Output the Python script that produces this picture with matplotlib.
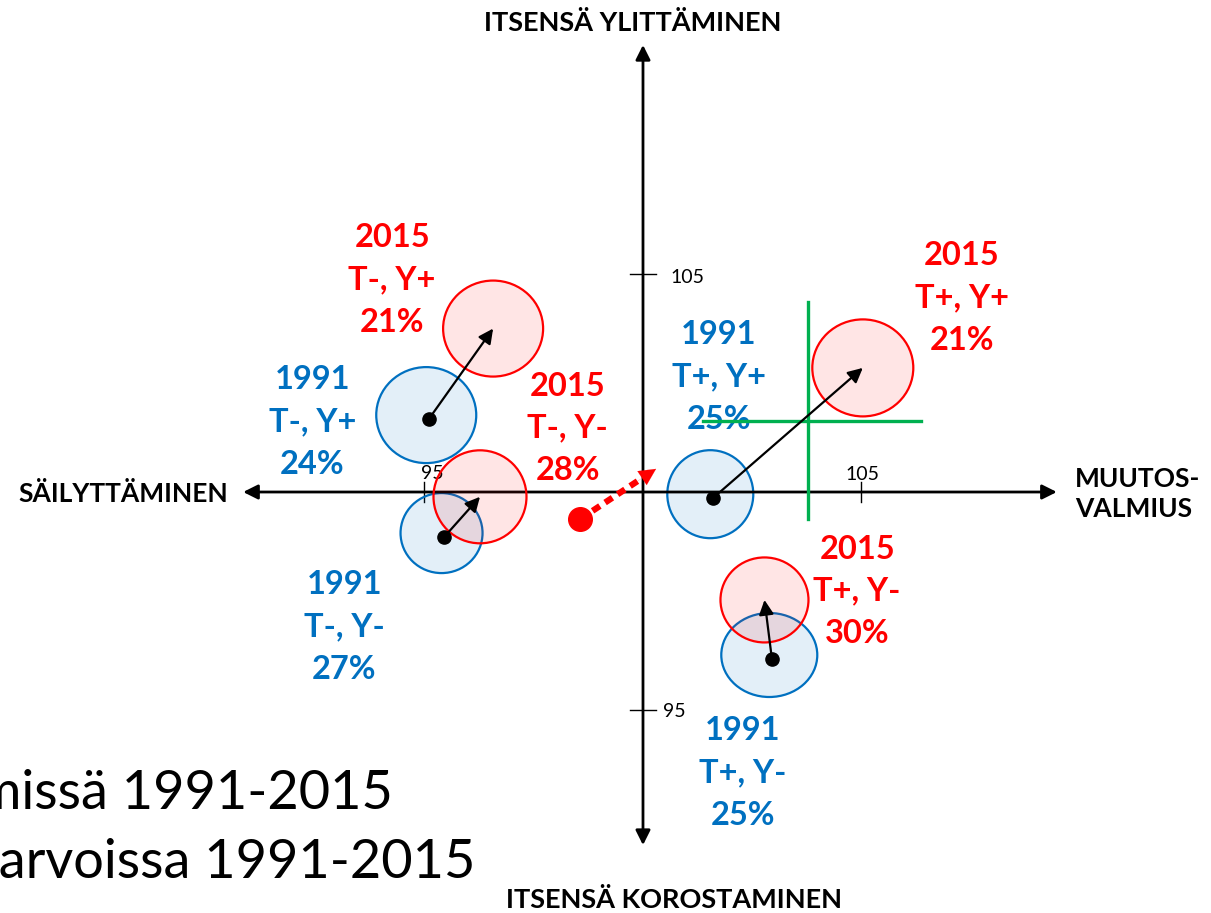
import matplotlib.pyplot as plt
from matplotlib.patches import Ellipse

plt.rcParams['font.family'] = ['Lato', 'DejaVu Sans']

# arvoryhmät: T = muutosvalmius (+/-), Y = itsensä ylittäminen (+/-)
groups = ['T-, Y+', 'T-, Y-', 'T+, Y+', 'T+, Y-']

# 1991 pisteet
x_1991 = [95.10, 95.45, 101.60, 102.95]
y_1991 = [101.67, 98.97, 99.86, 96.18]
pct_1991 = ['24%', '27%', '25%', '25%']

# 2015 pisteet
x_2015 = [96.57, 96.27, 105.03, 102.78]
y_2015 = [103.74, 99.89, 102.84, 97.53]
pct_2015 = ['21%', '28%', '21%', '30%']

# koko väestön siirtymä
shift_from = (98.56, 99.38)
shift_to = (100.30, 100.53)

# vihreä risti
cross_x = 103.77
cross_y = 101.63
cross_h = (101.38, 106.36)
cross_v = (99.38, 104.35)

ticks = [95, 105]

BLUE = '#0070C0'
RED = '#FF0000'
GREEN = '#00B050'
PX = 43.7  # pikseliä per yksikkö

# ympyröiden koot (px)
size_1991 = [(100, 96), (82, 80), (86, 88), (96, 84)]
size_2015 = [(100, 96), (93, 93), (101, 97), (88, 85)]

# tekstien paikat
lab_1991 = [(92.43, 101.60), (93.16, 96.91), (101.74, 102.63), (102.29, 93.57)]
lab_2015 = [(94.26, 104.85), (98.28, 101.46), (107.30, 104.44), (104.90, 97.73)]

fig = plt.figure(figsize=(12.11, 9.13), dpi=100)
ax = fig.add_axes([0, 0, 1, 1])
ax.set_xlim(85.286, 112.998)
ax.set_ylim(90.366, 111.259)
ax.axis('off')

# akselit
ax.annotate('', xy=(109.47, 100), xytext=(90.85, 100),
            arrowprops=dict(arrowstyle='<|-|>', color='black', lw=2.0,
                            mutation_scale=22, shrinkA=0, shrinkB=0))
ax.annotate('', xy=(100, 110.23), xytext=(100, 91.92),
            arrowprops=dict(arrowstyle='<|-|>', color='black', lw=2.0,
                            mutation_scale=22, shrinkA=0, shrinkB=0))
for t in ticks:
    ax.plot([t, t], [99.78, 100.22], color='black', lw=1.0)
    ax.plot([99.7, 100.3], [t, t], color='black', lw=1.0)
ax.text(105.03, 100.39, '105', ha='center', va='center', fontsize=14)
ax.text(95.17, 100.43, '95', ha='center', va='center', fontsize=14)
ax.text(100.62, 104.90, '105', ha='left', va='center', fontsize=14)
ax.text(100.46, 94.97, '95', ha='left', va='center', fontsize=14)

# akselien nimet
ax.text(99.77, 110.73, 'ITSENSÄ YLITTÄMINEN', ha='center', va='center',
        fontsize=19.5, fontweight='bold')
ax.text(88.10, 99.95, 'SÄILYTTÄMINEN', ha='center', va='center',
        fontsize=19, fontweight='bold')
ax.text(109.89, 99.95, 'MUUTOS-\nVALMIUS', ha='left', va='center',
        fontsize=19, fontweight='bold', linespacing=1.3)
ax.text(100.71, 90.66, 'ITSENSÄ KOROSTAMINEN', ha='center', va='center',
        fontsize=19.5, fontweight='bold')

# ympyrät
for i in range(len(groups)):
    w, h = size_1991[i]
    ax.add_patch(Ellipse((x_1991[i] - 0.06, y_1991[i] + 0.09), w / PX, h / PX,
                         facecolor=BLUE, alpha=0.11, edgecolor='none', zorder=2))
    ax.add_patch(Ellipse((x_1991[i] - 0.06, y_1991[i] + 0.09), w / PX, h / PX,
                         facecolor='none', edgecolor=BLUE, lw=1.6, zorder=2))
    w, h = size_2015[i]
    ax.add_patch(Ellipse((x_2015[i], y_2015[i]), w / PX, h / PX,
                         facecolor=RED, alpha=0.1, edgecolor='none', zorder=3))
    ax.add_patch(Ellipse((x_2015[i], y_2015[i]), w / PX, h / PX,
                         facecolor='none', edgecolor=RED, lw=1.6, zorder=3))

# tekstit
for i, g in enumerate(groups):
    ax.text(lab_1991[i][0], lab_1991[i][1], f'1991\n{g}\n{pct_1991[i]}',
            ha='center', va='center', color=BLUE, fontsize=23.5,
            fontweight='bold', linespacing=1.55, zorder=4)
    ax.text(lab_2015[i][0], lab_2015[i][1], f'2015\n{g}\n{pct_2015[i]}',
            ha='center', va='center', color=RED, fontsize=23.5,
            fontweight='bold', linespacing=1.55, zorder=4)

# vihreä risti (tekstin päällä)
ax.plot(cross_h, [cross_y, cross_y], color=GREEN, lw=2.4, zorder=5)
ax.plot([cross_x, cross_x], cross_v, color=GREEN, lw=2.4, zorder=5)

# nuolet 1991 -> 2015
for i in range(len(groups)):
    ax.annotate('', xy=(x_2015[i], y_2015[i]), xytext=(x_1991[i], y_1991[i]),
                arrowprops=dict(arrowstyle='-|>', color='black', lw=1.6,
                                mutation_scale=22, shrinkA=0, shrinkB=0),
                zorder=6)
ax.plot(x_1991, y_1991, 'o', color='black', markersize=9.5, zorder=7)

# koko väestön siirtymä (punainen katkoviiva)
dx = shift_to[0] - shift_from[0]
dy = shift_to[1] - shift_from[1]
ax.plot([shift_from[0], shift_from[0] + 0.78 * dx],
        [shift_from[1], shift_from[1] + 0.78 * dy],
        color=RED, lw=4.5, ls=(0, (1.4, 1.0)), zorder=6)
ax.annotate('', xy=shift_to, xytext=(shift_from[0] + 0.7 * dx, shift_from[1] + 0.7 * dy),
            arrowprops=dict(arrowstyle='-|>', color=RED, lw=0.1,
                            mutation_scale=30, shrinkA=0, shrinkB=0), zorder=6)
ax.plot(*shift_from, 'o', color=RED, markersize=17, zorder=7)

# dian otsikko (reunan yli, kuten alkuperäisessä)
ax.text(94.28, 93.11, 'Muutokset arvoryhmissä 1991-2015', ha='right', va='center',
        fontsize=39)
ax.text(96.16, 91.53, 'Muutokset arvoissa 1991-2015', ha='right', va='center',
        fontsize=39)

fig.savefig('out.png', dpi=100)
